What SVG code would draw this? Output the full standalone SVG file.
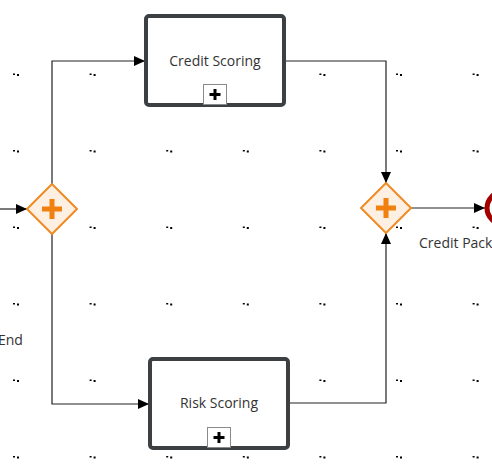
<svg xmlns="http://www.w3.org/2000/svg" width="492" height="471" viewBox="0 0 492 471">
<defs>
<style>
.grid rect{fill:#dcdcdc}
.task rect.box{fill:#fff;stroke:#3c4043;stroke-width:4}
.task rect.mk{fill:#fff;stroke:#8a8a8a;stroke-width:1}
.task path.mkp{stroke:#000;stroke-width:3;fill:none}
.gw path.d{fill:#fdf0e3;stroke:#f08a24;stroke-width:2;stroke-linejoin:round}
.gw path.p{stroke:#f08010;stroke-width:5;fill:none}
.lbl{font-family:"Open Sans","Liberation Sans",sans-serif;font-size:14px;fill:#333}
.conn path{fill:none;stroke:#222;stroke-width:1.2}
</style>
<marker id="arr" markerWidth="12" markerHeight="10" refX="11" refY="5" orient="auto" markerUnits="userSpaceOnUse">
<path d="M0,0 L11,5 L0,10 Z" fill="#000"/>
</marker>
<g id="dot"><rect x="-3" y="-1" width="2" height="1.5"/><rect x="1" y="-0.5" width="2" height="2"/></g>
</defs>
<rect width="492" height="471" fill="#fff"/>
<g class="grid">
<use href="#dot" x="16" y="74.5"/><use href="#dot" x="92.6" y="74.5"/><use href="#dot" x="322.4" y="74.5"/><use href="#dot" x="399" y="74.5"/><use href="#dot" x="475.6" y="74.5"/>
<use href="#dot" x="16" y="151"/><use href="#dot" x="92.6" y="151"/><use href="#dot" x="169.2" y="151"/><use href="#dot" x="245.8" y="151"/><use href="#dot" x="322.4" y="151"/><use href="#dot" x="399" y="151"/><use href="#dot" x="475.6" y="151"/>
<use href="#dot" x="16" y="227.5"/><use href="#dot" x="92.6" y="227.5"/><use href="#dot" x="169.2" y="227.5"/><use href="#dot" x="245.8" y="227.5"/><use href="#dot" x="322.4" y="227.5"/><use href="#dot" x="399" y="227.5"/><use href="#dot" x="475.6" y="227.5"/>
<use href="#dot" x="16" y="304"/><use href="#dot" x="92.6" y="304"/><use href="#dot" x="169.2" y="304"/><use href="#dot" x="245.8" y="304"/><use href="#dot" x="322.4" y="304"/><use href="#dot" x="399" y="304"/><use href="#dot" x="475.6" y="304"/>
<use href="#dot" x="16" y="380.5"/><use href="#dot" x="92.6" y="380.5"/><use href="#dot" x="322.4" y="380.5"/><use href="#dot" x="399" y="380.5"/><use href="#dot" x="475.6" y="380.5"/>
<use href="#dot" x="16" y="457"/><use href="#dot" x="92.6" y="457"/><use href="#dot" x="169.2" y="457"/><use href="#dot" x="245.8" y="457"/><use href="#dot" x="322.4" y="457"/><use href="#dot" x="399" y="457"/><use href="#dot" x="475.6" y="457"/>
</g>
<g class="conn">
<path d="M0,209 H27" marker-end="url(#arr)"/>
<path d="M52,184 V61 H145" marker-end="url(#arr)"/>
<path d="M52,234 V404 H149" marker-end="url(#arr)"/>
<path d="M284,61 H386 V183" marker-end="url(#arr)"/>
<path d="M289,403 H386 V233" marker-end="url(#arr)"/>
<path d="M411,208 H485" marker-end="url(#arr)"/>
</g>
<g id="credit-scoring" class="task">
<rect class="box" x="146" y="16" width="138" height="89" rx="3"/>
<text class="lbl" x="215" y="66" text-anchor="middle">Credit Scoring</text>
<rect class="mk" x="203.5" y="84.5" width="23" height="20"/>
<path class="mkp" d="M215,89 V100 M209.5,94.5 H220.5"/>
</g>
<g id="risk-scoring" class="task">
<rect class="box" x="150" y="359" width="138" height="89" rx="3"/>
<text class="lbl" x="219" y="408" text-anchor="middle">Risk Scoring</text>
<rect class="mk" x="207.5" y="427.5" width="23" height="20"/>
<path class="mkp" d="M219,432 V443 M213.5,437.5 H224.5"/>
</g>
<g id="split-gateway" class="gw">
<path class="d" d="M52,184 L77,209 L52,234 L27,209 Z"/>
<path class="p" d="M52,199 V219 M42,209 H62"/>
</g>
<g id="join-gateway" class="gw">
<path class="d" d="M386,183 L411,208 L386,233 L361,208 Z"/>
<path class="p" d="M386,198 V218 M376,208 H396"/>
</g>
<g id="end-event">
<circle cx="503" cy="208" r="16" fill="#fff" stroke="#a30000" stroke-width="5"/>
<text class="lbl" x="419" y="248">Credit Package</text>
</g>
<g id="start-label">
<text class="lbl" x="-2" y="345">End</text>
</g>
</svg>
